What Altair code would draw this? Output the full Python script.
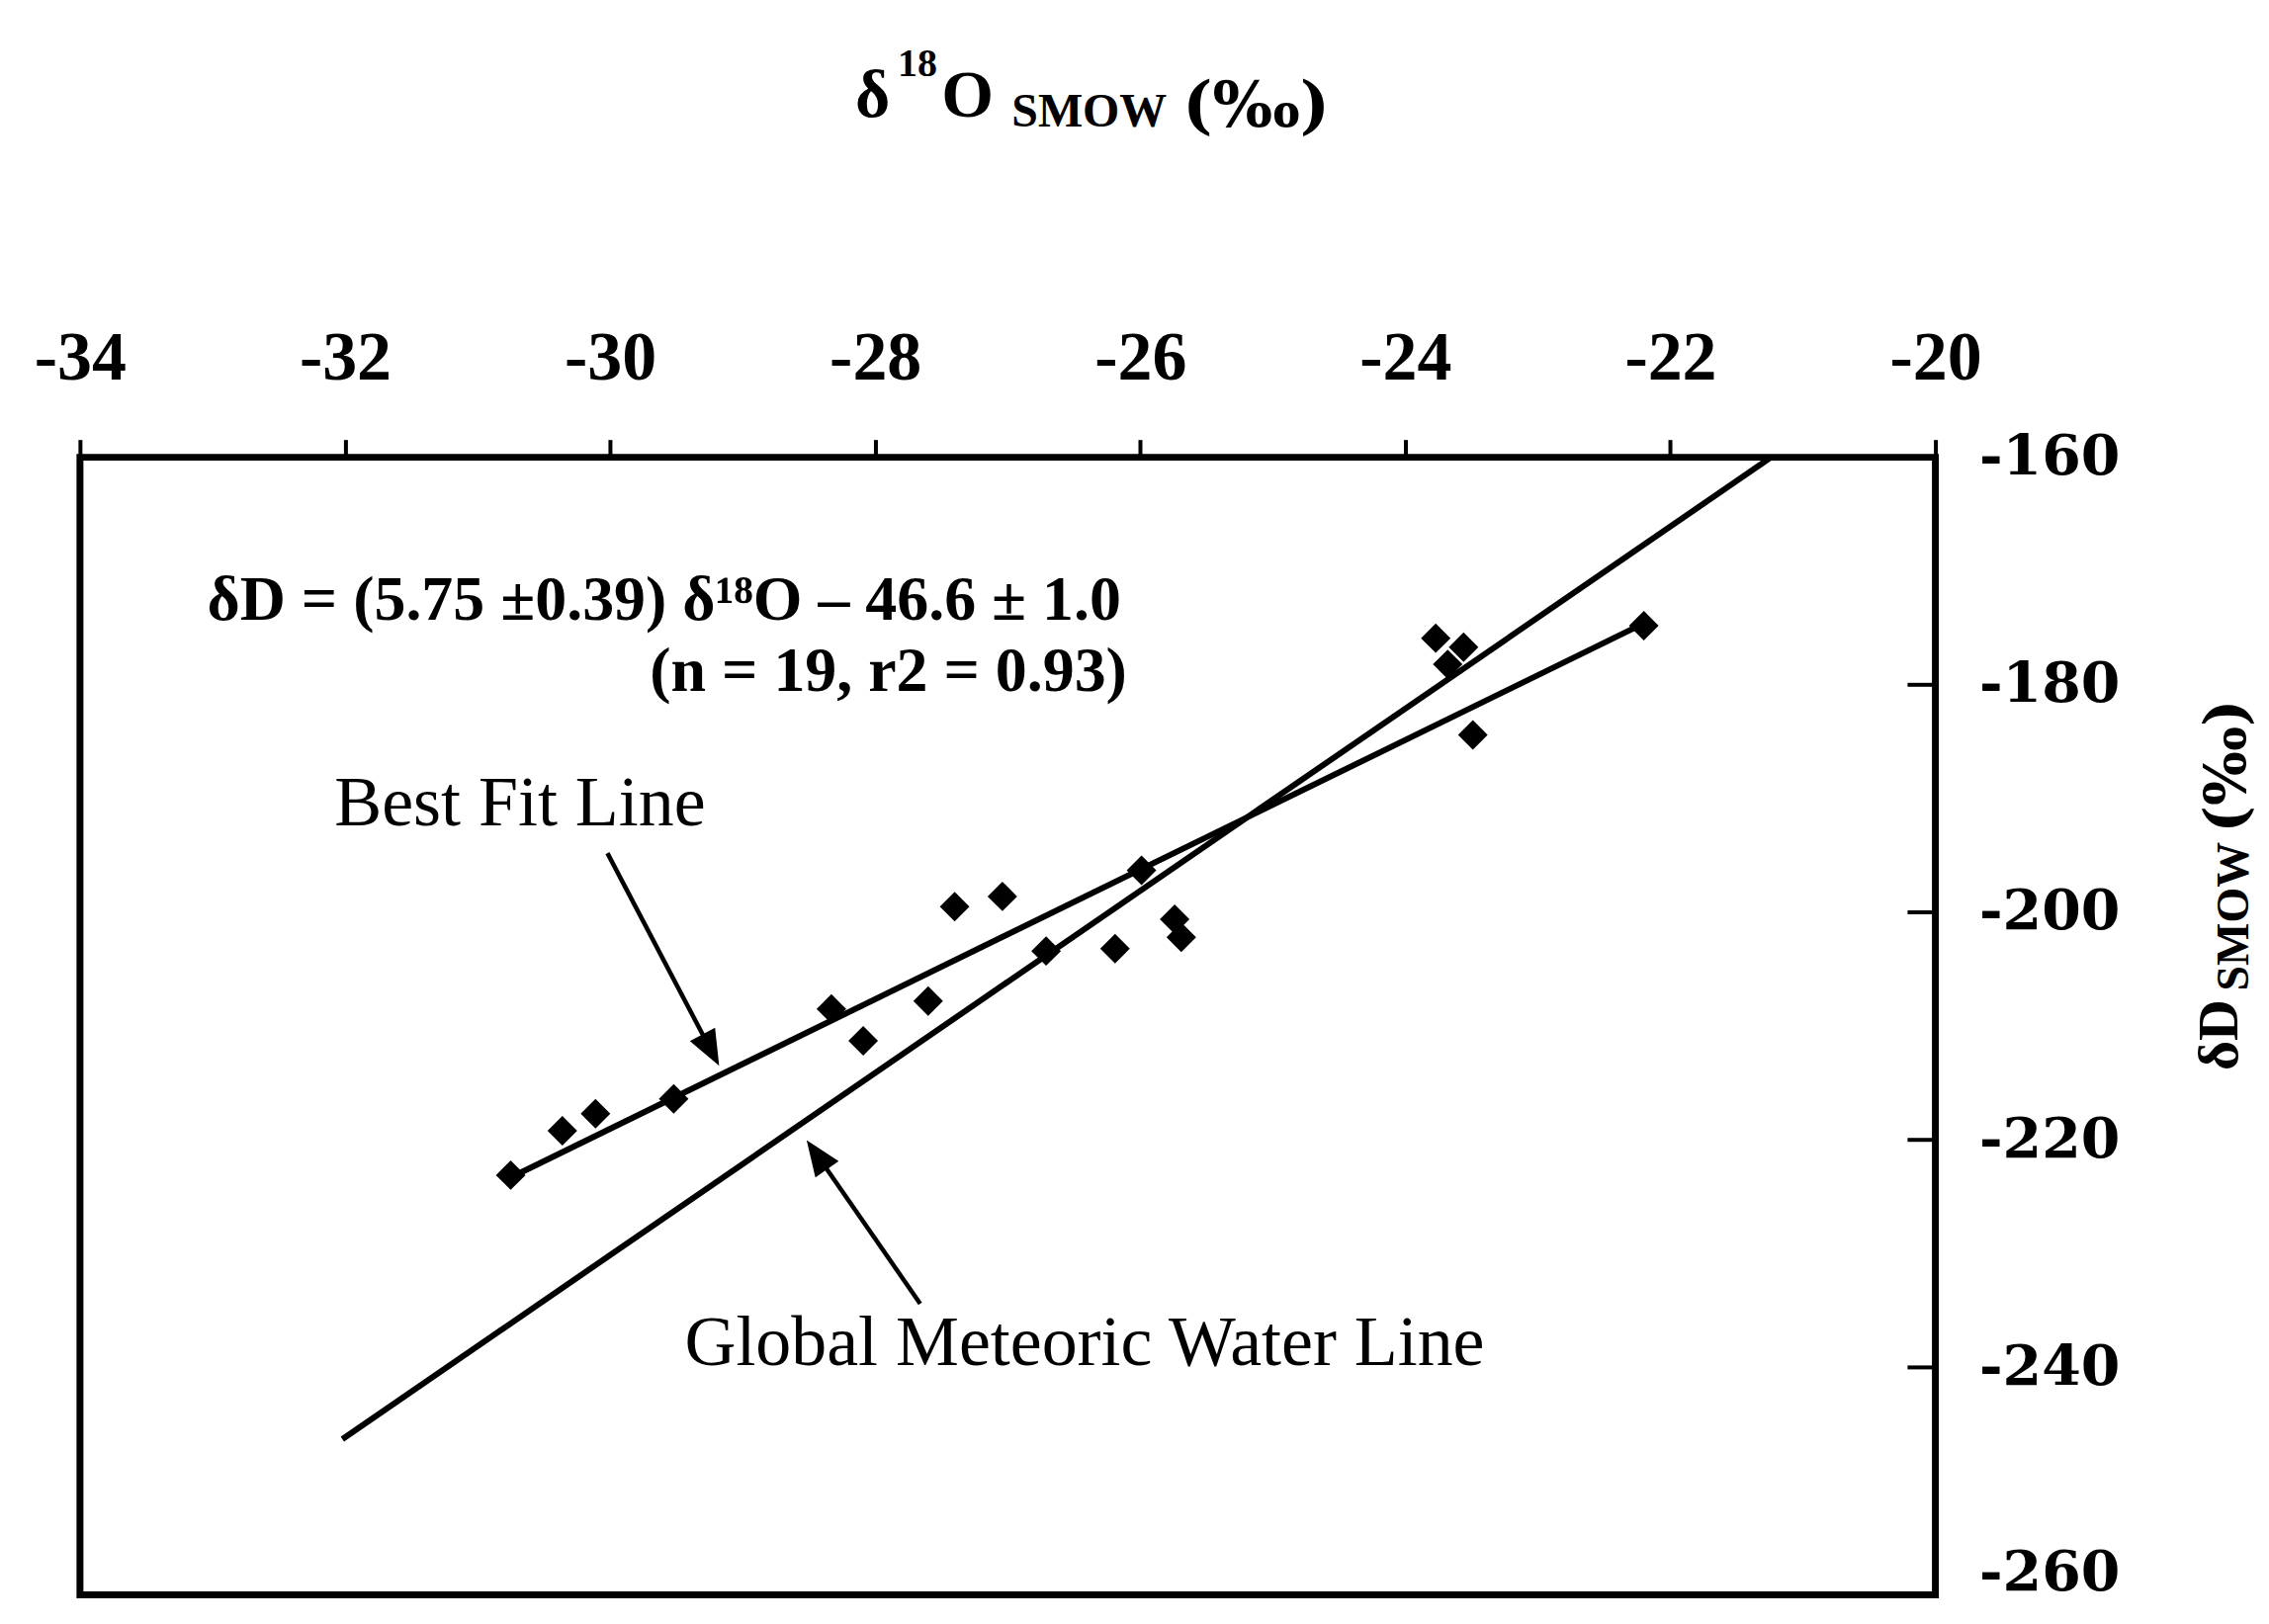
import altair as alt
import pandas as pd

# ---------------- data ----------------
x_ticks = [-34, -32, -30, -28, -26, -24, -22, -20]
y_ticks = [-160, -180, -200, -220, -240, -260]
y_inner_ticks = [-180, -200, -220, -240]

pt_x = [-30.75, -30.36, -30.11, -29.52, -28.33, -28.09, -27.60, -27.40, -27.04, -26.71,
        -26.19, -25.99, -25.74, -25.69, -23.77, -23.56, -23.68, -23.49, -22.20]
pt_y = [-223.1, -219.2, -217.7, -216.4, -208.5, -211.3, -207.8, -199.5, -198.6, -203.4,
        -203.2, -196.3, -200.6, -202.2, -175.9, -176.7, -178.2, -184.4, -174.8]

bf_x = [-30.75, -22.20]          # best fit line end points
bf_y = [-223.3, -174.6]
gm_x = [-32.02, -21.24]          # global meteoric water line end points
gm_y = [-246.3, -160.0]

arrow_name = ["bf", "bf", "gm", "gm"]
arrow_x = [-30.02, -29.24, -27.66, -28.44]
arrow_y = [-194.8, -212.1, -234.4, -221.3]
head_x = [-29.24, -28.44]
head_y = [-212.1, -221.3]
head_angle = [152, 325]

label_text = ["Best Fit Line", "Global Meteoric Water Line"]
label_x = [-30.68, -26.42]
label_y = [-192.35, -239.8]

eq1_text = ["δD = (5.75 ±0.39) δ¹⁸O – 46.6 ± 1.0"]
eq1_x, eq1_y = [-33.04], [-174.3]
eq2_text = ["(n = 19, r2 = 0.93)"]
eq2_x, eq2_y = [-26.10], [-180.5]

# x-axis title pieces: δ 18 O SMOW (‰)
t_big_text = ["δ", "O"]
t_big_x = [-28.15, -27.50]
t_big_y = [-130.1, -130.1]
t_sup_text, t_sup_x, t_sup_y = ["18"], [-27.83], [-126.5]
t_sub_text, t_sub_x, t_sub_y = ["SMOW"], [-26.97], [-130.9]
t_pm_text, t_pm_x, t_pm_y = ["(‰)"], [-25.68], [-130.9]

# y-axis title pieces (rotated): δD SMOW (‰)
yt_big_text, yt_big_x, yt_big_y = ["δD"], [-17.72], [-213.9]
yt_sub_text, yt_sub_x, yt_sub_y = ["SMOW"], [-17.64], [-206.9]
yt_pm_text, yt_pm_x, yt_pm_y = ["(‰)"], [-17.66], [-193.0]

# ---------------- chart ----------------
SERIF = "Liberation Serif"
LAST = "datum.value == -260"

xscale = alt.Scale(domain=[-34, -20], nice=False, zero=False)
yscale = alt.Scale(domain=[-260, -160], nice=False, zero=False)
xaxis = alt.Axis(orient="top", values=x_ticks, title=None, grid=False, domain=False,
                 ticks=True, tickSize=18, tickWidth=4, tickColor="black",
                 labelFont=SERIF, labelFontSize=70, labelFontWeight="bold",
                 labelColor="black", labelPadding=46, labelFlush=False, labelOverlap=False,
                 labelExpr="'-' + format(abs(datum.value), 'd')")
yaxis = alt.Axis(orient="right", values=y_ticks, title=None, grid=False, domain=False,
                 ticks=False, labelFont="DejaVu Serif", labelFontSize=57,
                 labelFontWeight="bold",
                 labelColor="black", labelPadding=44, labelAlign="left",
                 labelBaseline={"condition": {"test": LAST, "value": "alphabetic"},
                                "value": "middle"},
                 labelOffset={"condition": {"test": LAST, "value": -5}, "value": 0},
                 labelFlush=False, labelOverlap=False,
                 labelExpr="'-' + format(abs(datum.value), 'd')")


def X(field="x"):
    return alt.X(f"{field}:Q", scale=xscale, axis=xaxis)


def Y(field="y"):
    return alt.Y(f"{field}:Q", scale=yscale, axis=yaxis)


pts = pd.DataFrame({"x": pt_x, "y": pt_y})
lines = pd.DataFrame({"x": bf_x + gm_x, "y": bf_y + gm_y,
                      "line": ["bf", "bf", "gm", "gm"]})
arrows = pd.DataFrame({"x": arrow_x, "y": arrow_y, "line": arrow_name})
heads = pd.DataFrame({"x": head_x, "y": head_y, "angle": head_angle})
ticks_df = pd.DataFrame({"y": y_inner_ticks, "x": [-20.21] * 4, "x2": [-20.0] * 4})

point_layer = alt.Chart(pts).mark_point(shape="diamond", filled=True, color="black",
                                        size=900, opacity=1).encode(x=X(), y=Y())
line_layer = alt.Chart(lines).mark_line(color="black", strokeWidth=6).encode(
    x=X(), y=Y(), detail="line:N")
arrow_layer = alt.Chart(arrows).mark_line(color="black", strokeWidth=4.5).encode(
    x=X(), y=Y(), detail="line:N")
head_layer = alt.Chart(heads).mark_point(
    shape="M0,-1L-0.8,1L0.8,1Z", filled=True, color="black", size=1300, opacity=1
).encode(x=X(), y=Y(), angle=alt.Angle("angle:Q", scale=None))
tick_layer = alt.Chart(ticks_df).mark_rule(color="black", strokeWidth=4).encode(
    x=X(), x2="x2:Q", y=Y())


def txt(texts, xs, ys, **props):
    df = pd.DataFrame({"x": xs, "y": ys, "t": texts})
    base = dict(font=SERIF, color="black", baseline="alphabetic")
    base.update(props)
    return alt.Chart(df).mark_text(**base).encode(x=X(), y=Y(), text="t:N")


layers = [
    line_layer, arrow_layer, head_layer, point_layer, tick_layer,
    txt(label_text, label_x, label_y, fontSize=72, align="center"),
    txt(eq1_text, eq1_x, eq1_y, fontSize=64, fontWeight="bold", align="left"),
    txt(eq2_text, eq2_x, eq2_y, fontSize=64, fontWeight="bold", align="right"),
    txt(t_big_text, t_big_x, t_big_y, fontSize=68, fontWeight="bold", align="left"),
    txt(t_sup_text, t_sup_x, t_sup_y, fontSize=40, fontWeight="bold", align="left"),
    txt(t_sub_text, t_sub_x, t_sub_y, fontSize=48, fontWeight="bold", align="left"),
    txt(t_pm_text, t_pm_x, t_pm_y, fontSize=64, fontWeight="bold", align="left",
        font="DejaVu Serif"),
    txt(yt_big_text, yt_big_x, yt_big_y, fontSize=58, fontWeight="bold", align="left", angle=270),
    txt(yt_sub_text, yt_sub_x, yt_sub_y, fontSize=46, fontWeight="bold", align="left", angle=270),
    txt(yt_pm_text, yt_pm_x, yt_pm_y, fontSize=58, fontWeight="bold", align="left", angle=270,
        font="DejaVu Serif"),
]

chart = alt.layer(*layers).properties(
    width=1880, height=1153,
    autosize=alt.AutoSizeParams(type="none"),
    padding={"left": 73, "top": 454, "right": 330, "bottom": 10},
).configure(background="white").configure_view(stroke="black", strokeWidth=7)

chart.save("out.html", embed_options={"renderer": "svg", "actions": False})
